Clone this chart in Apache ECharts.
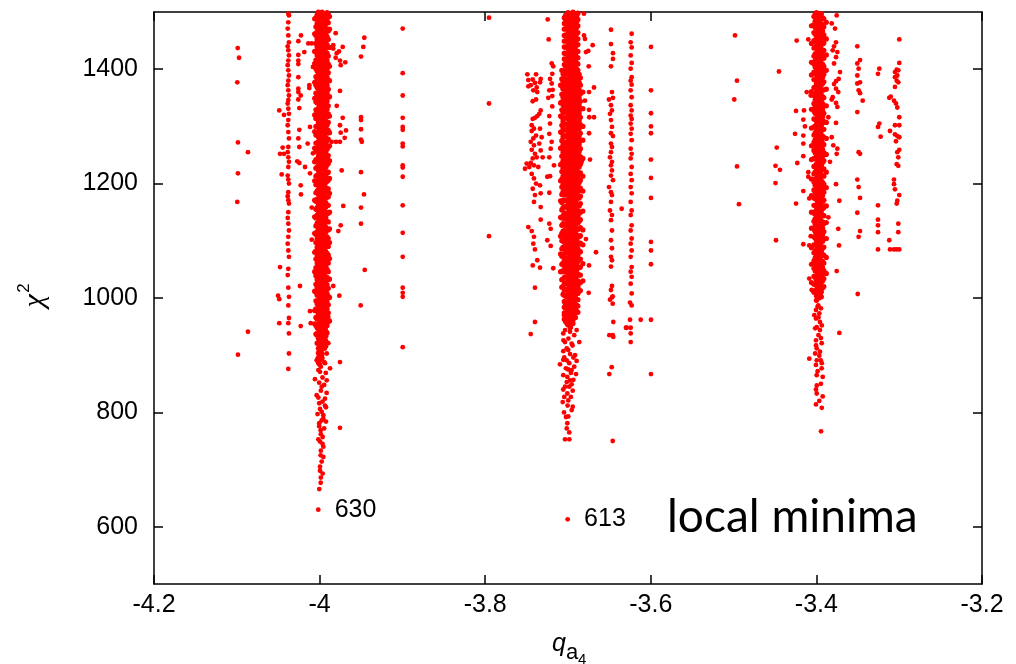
<!DOCTYPE html>
<html><head><meta charset="utf-8">
<script src="https://cdn.jsdelivr.net/npm/echarts@6/dist/echarts.min.js"></script>
<style>html,body{margin:0;padding:0;background:#fff}#c{width:1016px;height:664px}</style>
</head><body><div id="c"></div>
<script>
const xTicks = [-4.2, -4, -3.8, -3.6, -3.4, -3.2];
const yTicks = [600, 800, 1000, 1200, 1400];

// dense cores: lane x positions and y values per lane
const coreA_x = [-4.000, -3.997, -3.994, -4.003, -3.991, -4.006, -3.988, -3.9985, -3.9955, -4.0015, -3.9925, -4.0045, -3.9895];
const coreA_y = [
 [1498,1491,1483,1476,1467,1460,1452,1445,1436,1429,1421,1413,1406,1397,1390,1382,1374,1367,1358,1351,1343,1335,1328,1319,1312,1304,1296,1289,1280,1273,1265,1257,1250,1241,1234,1226,1218,1211,1202,1195,1187,1179,1172,1163,1156,1148,1140,1133,1124,1117,1109,1101,1094,1085,1078,1070,1062,1055,1046,1039,1031,1023,1016,1007,1000,992,984,977,968,961,953,945,938,929,922,914,906,899,891,884],
 [1500,1494,1487,1479,1471,1463,1456,1448,1440,1432,1425,1417,1409,1401,1394,1386,1378,1370,1362,1355,1347,1339,1331,1324,1316,1308,1300,1292,1285,1277,1269,1261,1253,1246,1238,1230,1222,1214,1207,1199,1191,1183,1176,1168,1160,1152,1144,1137,1129,1121,1113,1105,1098,1090,1082,1074,1066,1059,1051,1043,1035,1027,1020,1012,1004,996,988,981,973,965,957,950,942,934,926,918,910,902,895],
 [1497,1489,1482,1474,1465,1458,1450,1443,1434,1427,1419,1411,1404,1395,1388,1380,1372,1365,1356,1349,1341,1333,1326,1317,1310,1302,1294,1287,1278,1271,1263,1255,1248,1239,1232,1224,1216,1209,1200,1193,1185,1177,1170,1161,1154,1146,1138,1131,1122,1115,1107,1099,1092,1083,1076,1068,1060,1053,1044,1037,1029,1021,1014,1005,998,990,982,975,966,959,951,943,936,927,920,912],
 [1495,1480,1466,1452,1439,1424,1410,1397,1383,1368,1355,1341,1326,1313,1299,1284,1271,1257,1242,1229,1215,1200,1187,1173,1158,1145,1131,1116,1103,1089,1074,1061,1047,1032,1019,1005,990,977,963,948,935,921],
 [1499,1486,1470,1457,1443,1428,1415,1401,1386,1372,1359,1344,1330,1317,1302,1288,1275,1260,1246,1233,1218,1204,1191,1176,1162,1149,1134,1120,1107,1092,1078,1065,1050,1036,1023,1008,994,981,966,952,939],
 [1488,1462,1431,1410,1377,1349,1320,1291,1262,1238,1205,1171,1142,1113,1080,1046,1012,978,955],
 [1492,1470,1438,1405,1380,1352,1318,1289,1266,1240,1209,1183,1150,1121,1097,1069,1033,1001,960],
 [1495,1486,1478,1470,1461,1453,1441,1432,1424,1415,1408,1399,1391,1383,1374,1366,1357,1349,1341,1332,1324,1315,1307,1298,1290,1282,1274,1265,1257,1248,1240,1231,1223,1215,1206,1198,1189,1181,1173,1164,1156,1147,1139,1131,1122,1114,1105,1097,1089,1080,1072,1063,1055,1047,1038,1030,1021,1013,1005,996,988,979,971,963,954,946,937,929,921,912,904,895],
 [1490,1481,1473,1464,1456,1447,1439,1430,1422,1413,1405,1396,1388,1379,1371,1362,1354,1345,1337,1328,1320,1311,1303,1294,1286,1277,1269,1260,1252,1243,1235,1226,1218,1209,1201,1192,1184,1175,1167,1158,1150,1141,1133,1124,1116,1107,1099,1090,1082,1073,1065,1056,1048,1039,1031,1022,1014,1005,997,988,980,971,963,954,946,937,929,920,912],
 [1500,1492,1484,1475,1467,1458,1450,1442,1433,1425,1416,1408,1400,1391,1383,1374,1366,1358,1349,1341,1332,1324,1316,1307,1299,1290,1282,1274,1265,1257,1248,1240,1232,1223,1215,1206,1198,1190,1181,1173,1164,1156,1148,1139,1131,1122,1114,1106,1097,1089,1080,1072,1064,1055,1047,1038,1030,1022,1013,1005,996,988,980,971,963,954,946,938,929,921,912,904,896,887],
 [1497,1488,1479,1471,1462,1453,1445,1436,1427,1419,1410,1401,1393,1384,1375,1367,1358,1349,1341,1332,1323,1315,1306,1297,1289,1280,1271,1263,1254,1245,1237,1228,1219,1211,1202,1193,1185,1176,1167,1159,1150,1141,1133,1124,1115,1107,1098,1089,1081,1072,1063,1055,1046,1037,1029,1020,1011,1003,994,985,977,968,959,951,942,933,925,916],
 [1490,1474,1459,1445,1430,1416,1401,1387,1372,1358,1343,1329,1314,1300,1285,1271,1256,1242,1227,1213,1198,1184,1169,1155,1140,1126,1111,1097,1082,1068,1053,1039,1024,1010,995,981,966,952,937],
 [1496,1481,1467,1452,1438,1423,1409,1394,1380,1365,1351,1336,1322,1307,1293,1278,1264,1249,1235,1220,1206,1191,1177,1162,1148,1133,1119,1104,1090,1075,1061,1046,1032,1017,1003,988,974,959]
];
const coreB_x = [-3.700, -3.697, -3.694, -3.691, -3.703, -3.688, -3.706, -3.685, -3.709, -3.682, -3.6985, -3.6955, -3.6925, -3.7045, -3.6895, -3.7075, -3.6865];
const coreB_y = [
 [1499,1492,1484,1477,1468,1461,1453,1445,1438,1430,1421,1414,1406,1398,1391,1382,1375,1367,1359,1352,1343,1336,1328,1320,1313,1304,1297,1289,1281,1274,1265,1258,1250,1242,1235,1226,1219,1211,1203,1196,1187,1180,1172,1164,1157,1148,1141,1133,1125,1118,1109,1102,1094,1086,1079,1070,1063,1055,1047,1040,1031,1024,1016,1008,1001,992,985,977,969,962,953],
 [1496,1488,1481,1472,1465,1457,1449,1442,1434,1425,1418,1410,1402,1395,1386,1379,1371,1363,1356,1347,1340,1332,1324,1317,1308,1301,1293,1285,1278,1269,1262,1254,1246,1239,1230,1223,1215,1207,1200,1191,1184,1176,1168,1161,1152,1145,1137,1129,1122,1113,1106,1098,1090,1083,1074,1067,1059,1051,1044,1035,1028,1020,1012,1005,996,989,981,973,966,957,949],
 [1500,1493,1485,1476,1469,1461,1453,1446,1437,1430,1422,1414,1407,1398,1391,1383,1375,1368,1359,1352,1344,1336,1329,1320,1313,1305,1297,1290,1281,1274,1266,1258,1251,1242,1235,1227,1219,1212,1203,1196,1188,1180,1173,1164,1157,1149,1141,1134,1125,1118,1110,1102,1095,1086,1079,1071,1063,1056,1047,1040,1032,1024,1017,1008,1001,993,985,978,969,961],
 [1497,1489,1480,1473,1465,1457,1450,1441,1434,1426,1418,1411,1402,1395,1387,1379,1372,1363,1356,1348,1340,1333,1324,1317,1309,1301,1294,1285,1278,1270,1262,1255,1246,1239,1231,1223,1216,1207,1200,1192,1184,1177,1168,1161,1153,1145,1138,1129,1122,1114,1106,1099,1090,1083,1075,1067,1060,1051,1044,1036,1028,1021,1012,1005,997,989,982,974,966],
 [1494,1483,1471,1460,1450,1438,1427,1416,1405,1393,1382,1372,1360,1349,1338,1327,1315,1304,1294,1282,1271,1260,1249,1237,1226,1216,1204,1193,1182,1171,1159,1148,1138,1126,1115,1104,1093,1081,1070,1060,1048,1037,1026,1015,1003,992,982,970,959],
 [1498,1487,1476,1464,1453,1443,1431,1420,1409,1398,1386,1376,1365,1354,1342,1331,1320,1309,1298,1287,1276,1264,1253,1242,1231,1220,1209,1198,1186,1175,1164,1153,1142,1131,1120,1108,1097,1086,1075,1064,1053,1042,1030,1019,1008,997,986,975],
 [1392,1379,1365,1351,1338,1324,1309,1296,1282,1268,1255,1240,1227,1213,1199,1186,1171,1158,1144,1130,1117,1102,1089,1075,1061,1048,1033,1020,1006],
 [1385,1372,1357,1344,1330,1316,1303,1288,1275,1261,1247,1234,1219,1206,1192,1178,1165,1150,1137,1123,1109,1096,1081,1068,1054,1040,1027,1013],
 [1372,1341,1318,1290,1262,1233,1205,1170,1141,1108,1077,1046],
 [1360,1331,1300,1276,1244,1213,1187,1152,1119,1093,1060,1030],
 [1494,1485,1477,1468,1460,1451,1443,1434,1426,1417,1409,1400,1392,1383,1375,1366,1358,1349,1341,1332,1324,1315,1307,1298,1290,1281,1273,1264,1256,1247,1239,1230,1222,1213,1205,1196,1188,1179,1171,1162,1154,1145,1137,1128,1120,1111,1103,1094,1086,1077,1069,1060,1052,1043,1035,1026,1018,1009,1001,992,984,975,967,958],
 [1491,1482,1474,1465,1457,1448,1440,1431,1423,1414,1406,1397,1389,1380,1372,1363,1355,1346,1338,1329,1321,1312,1304,1295,1287,1278,1270,1261,1253,1244,1236,1227,1219,1210,1202,1193,1185,1176,1168,1159,1151,1142,1134,1125,1117,1108,1100,1091,1083,1074,1066,1057,1049,1040,1032,1023,1015,1006,998,989,981,972,964,955],
 [1488,1479,1471,1462,1454,1445,1437,1428,1420,1411,1403,1394,1386,1377,1369,1360,1352,1343,1335,1326,1318,1309,1301,1292,1284,1275,1267,1258,1250,1241,1233,1224,1216,1207,1199,1190,1182,1173,1165,1156,1148,1139,1131,1122,1114,1105,1097,1088,1080,1071,1063,1054,1046,1037,1029,1020,1012,1003,995,986,978,969],
 [1490,1480,1470,1459,1449,1439,1428,1418,1408,1397,1387,1377,1366,1356,1346,1335,1325,1315,1304,1294,1284,1273,1263,1253,1242,1232,1222,1211,1201,1191,1180,1170,1160,1149,1139,1129,1118,1108,1098,1087,1077,1067,1056,1046,1036,1025,1015,1005,994,984,974,963],
 [1493,1483,1473,1462,1452,1442,1431,1421,1411,1400,1390,1380,1369,1359,1349,1338,1328,1318,1307,1297,1287,1276,1266,1256,1245,1235,1225,1214,1204,1194,1183,1173,1163,1152,1142,1132,1121,1111,1101,1090,1080,1070,1059,1049,1039,1028,1018,1008,997,987,977],
 [1398,1383,1370,1356,1343,1329,1316,1302,1289,1275,1262,1248,1235,1221,1208,1194,1181,1167,1154,1140,1127,1113,1100,1086,1073,1059,1046,1032,1019],
 [1391,1377,1364,1350,1337,1323,1310,1296,1283,1269,1256,1242,1229,1215,1202,1188,1175,1161,1148,1134,1121,1107,1094,1080,1067,1053,1040,1026,1012]
];
const coreC_x = [-3.400, -3.397, -3.394, -3.403, -3.391, -3.406, -3.388, -3.3985, -3.3955, -3.4015, -3.3925];
const coreC_y = [
 [1499,1490,1481,1472,1463,1455,1446,1437,1428,1419,1410,1402,1393,1384,1375,1366,1357,1349,1340,1331,1322,1313,1304,1296,1287,1278,1269,1260,1251,1243,1234,1225,1216,1207,1198,1190,1181,1172,1163,1154,1145,1137,1128,1119,1110,1101,1092,1084,1075,1066,1057,1048,1039,1031,1022,1013,1004,996],
 [1495,1486,1477,1468,1459,1450,1442,1433,1424,1415,1406,1397,1389,1380,1371,1362,1353,1344,1336,1327,1318,1309,1300,1291,1283,1274,1265,1256,1247,1238,1230,1221,1212,1203,1194,1185,1177,1168,1159,1150,1141,1132,1124,1115,1106,1097,1088,1079,1071,1062,1053,1044,1035,1026,1018,1009,1000],
 [1497,1488,1479,1470,1461,1452,1444,1435,1426,1417,1408,1399,1391,1382,1373,1364,1355,1346,1338,1329,1320,1311,1302,1293,1285,1276,1267,1258,1249,1240,1232,1223,1214,1205,1196,1187,1179,1170,1161,1152,1143,1134,1126,1117,1108,1099,1090,1081,1073,1064,1055,1046,1037,1028,1020,1011,1002],
 [1492,1478,1464,1450,1437,1423,1409,1395,1382,1368,1354,1340,1327,1313,1299,1285,1272,1258,1244,1230,1217,1203,1189,1175,1162,1148,1134,1120,1107,1093,1079,1065,1052,1038,1024,1010],
 [1488,1474,1460,1446,1433,1419,1405,1391,1378,1364,1350,1336,1323,1309,1295,1281,1268,1254,1240,1226,1213,1199,1185,1171,1158,1144,1130,1116,1103,1089,1075,1061,1048,1034,1020],
 [1476,1445,1412,1390,1361,1330,1297,1266,1242,1208,1179,1150,1122,1088,1059,1027],
 [1482,1453,1425,1398,1365,1336,1307,1279,1251,1220,1193,1161,1132,1104,1071,1043],
 [1493,1484,1475,1466,1457,1448,1439,1431,1422,1413,1404,1395,1386,1378,1369,1360,1351,1342,1333,1325,1316,1307,1298,1289,1280,1272,1263,1254,1245,1236,1227,1219,1210,1201,1192,1183,1174,1166,1157,1148,1139,1130,1121,1113,1104,1095,1086,1077,1068,1060,1051,1042,1033,1024,1015,1007],
 [1491,1482,1473,1464,1455,1447,1438,1429,1420,1411,1402,1394,1385,1376,1367,1358,1349,1341,1332,1323,1314,1305,1296,1288,1279,1270,1261,1252,1243,1235,1226,1217,1208,1199,1190,1182,1173,1164,1155,1146,1137,1129,1120,1111,1102,1093,1084,1076,1067,1058,1049,1040,1031,1023,1014,1005],
 [1496,1484,1473,1461,1450,1438,1427,1415,1404,1392,1381,1369,1358,1346,1335,1323,1312,1300,1289,1277,1266,1254,1243,1231,1220,1208,1197,1185,1174,1162,1151,1139,1128,1116,1105,1093,1082,1070,1059,1047,1036,1024,1013],
 [1490,1478,1467,1455,1444,1432,1421,1409,1398,1386,1375,1363,1352,1340,1329,1317,1306,1294,1283,1271,1260,1248,1237,1225,1214,1202,1191,1179,1168,1156,1145,1133,1122,1110,1099,1087,1076,1064,1053,1041,1030,1018]
];

// tails of the dense columns
const tailA = [[-4.0016,1008],[-3.9935,1005],[-3.9995,993],[-3.9914,990],[-4.0035,979],[-3.9955,973],[-3.9895,967],[-4.0004,955],[-3.9923,949],[-4.0035,938],[-3.9947,932],[-3.9895,921],[-3.9995,915],[-3.9914,903],[-4.0035,891],[-3.9935,886],[-3.9874,877],[-3.9995,871],[-4.0056,858],[-3.9914,856],[-3.9975,845],[-4.0035,830],[-3.9935,824],[-4.0004,816],[-3.9923,809],[-3.9975,801],[-3.9955,789],[-4.0004,781],[-3.9923,784],[-3.9987,769],[-3.9963,757],[-3.9995,749],[-3.9955,740],[-3.9987,725],[-3.9955,722],[-3.9995,705],[-3.9963,693],[-3.9987,677],[-4.0004,666],
 [-3.9975,897],[-4.0025,893],[-3.9945,888],[-3.9985,880],[-4.0015,874],[-3.9925,869],[-3.9965,861],[-4.0005,852],[-3.9945,848],[-3.9985,838],[-3.9915,834],[-4.0015,826],[-3.9965,819],[-3.9935,812],[-3.9995,806],[-4.0025,797],[-3.9955,795],[-3.9975,786],[-4.0005,776],[-3.9945,772],[-3.9985,762],[-4.0015,753],[-3.9965,745],[-3.9985,733],[-3.9975,714],[-3.9995,698],[-3.9985,686]];
const tailB = [[-3.7057,1008],[-3.6997,1005],[-3.6915,1002],[-3.7036,990],[-3.6956,987],[-3.6896,987],[-3.7048,970],[-3.6984,973],[-3.6915,973],[-3.7016,955],[-3.6936,955],[-3.7057,938],[-3.6976,941],[-3.6896,944],[-3.7036,923],[-3.6956,920],[-3.6997,909],[-3.7057,907],[-3.6915,900],[-3.7016,891],[-3.6896,890],[-3.7057,892],[-3.7097,884],[-3.6997,875],[-3.6956,874],[-3.7008,862],[-3.7057,865],[-3.6903,867],[-3.6976,856],[-3.7036,845],[-3.6956,849],[-3.6943,838],[-3.7057,840],[-3.7008,833],[-3.7064,818],[-3.6997,821],[-3.6943,810],[-3.7048,800],[-3.6997,793],[-3.7024,792],[-3.7008,781],[-3.7036,753],[-3.6984,753],
 [-3.6975,947],[-3.7035,944],[-3.6925,935],[-3.6995,929],[-3.7055,926],[-3.6945,917],[-3.7015,912],[-3.6975,902],[-3.6935,896],[-3.7045,896],[-3.6985,886],[-3.6925,880],[-3.7025,877],[-3.6965,869],[-3.7015,853],[-3.6935,857],[-3.6985,845],[-3.7045,827],[-3.6965,827],[-3.7005,812],[-3.6955,804],[-3.7015,772],[-3.6985,765]];
const tailC = [[-3.4017,1011],[-3.3957,1008],[-3.3996,996],[-3.3977,987],[-3.4005,979],[-3.3965,973],[-3.4005,964],[-3.3957,958],[-3.3996,949],[-3.3957,944],[-3.4005,926],[-3.3936,921],[-3.3996,912],[-3.3957,906],[-3.3996,891],[-3.3948,891],[-3.4005,883],[-3.3936,877],[-3.3996,865],[-3.3924,862],[-3.4005,840],[-3.3996,833],[-3.3924,828],[-3.4005,814],[-3.3944,767],
 [-3.3985,985],[-3.3945,982],[-3.4025,970],[-3.3975,966],[-3.3935,952],[-3.4015,947],[-3.3975,935],[-3.3945,930],[-3.4005,917],[-3.3965,899],[-3.4015,903],[-3.3935,886],[-3.3985,872],[-3.3945,850],[-3.3995,847],[-3.3965,820],[-3.3935,808]];

// scattered points
const sideA = [[-4.0989,1437],[-4.0973,1420],[-4.0994,1377],[-4.0986,1272],[-4.0865,1255],[-4.0986,1218],[-4.0994,1168],[-4.0986,901],[-4.0865,941],
 [-4.0378,1497],[-4.0370,1494],[-4.0378,1482],[-4.0385,1471],[-4.0378,1459],[-4.0370,1447],[-4.0385,1440],[-4.0378,1433],[-4.0370,1424],[-4.0378,1415],[-4.0385,1407],[-4.0378,1398],[-4.0370,1389],[-4.0378,1380],[-4.0385,1372],[-4.0378,1363],[-4.0370,1354],[-4.0378,1346],[-4.0385,1340],[-4.0378,1331],[-4.0370,1322],[-4.0378,1311],[-4.0385,1302],[-4.0378,1290],[-4.0370,1279],[-4.0378,1264],[-4.0385,1255],[-4.0378,1246],[-4.0370,1238],[-4.0378,1229],[-4.0385,1214],[-4.0378,1207],[-4.0370,1200],[-4.0378,1185],[-4.0385,1178],[-4.0378,1171],[-4.0370,1165],[-4.0378,1150],[-4.0385,1140],[-4.0378,1130],[-4.0370,1118],[-4.0378,1107],[-4.0385,1095],[-4.0378,1083],[-4.0370,1072],[-4.0378,1051],[-4.0385,1040],[-4.0378,1018],[-4.0370,1002],[-4.0378,987],[-4.0370,965],[-4.0378,956],[-4.0370,938],[-4.0370,903],[-4.0378,876],
 [-4.0487,1328],[-4.0430,1320],[-4.0446,1263],[-4.0478,1252],[-4.0430,1252],[-4.0458,1216],[-4.0478,1054],[-4.0502,1004],[-4.0487,998],[-4.0487,956],[-4.0228,951],[-4.0116,977],[-4.0107,956],
 [-4.0225,1459],[-4.0257,1449],[-4.0257,1425],[-4.0185,1430],[-4.0257,1415],[-4.0257,1409],[-4.0257,1386],[-4.0257,1366],[-4.0257,1360],[-4.0228,1354],[-4.0257,1347],[-4.0245,1332],[-4.0245,1294],[-4.0257,1279],[-4.0245,1264],[-4.0270,1239],[-4.0245,1236],[-4.0228,1197],[-4.0225,1181],[-4.0237,1021],
 [-4.0176,1229],[-4.0124,1372],[-4.0124,1367],[-4.0116,1218],[-4.0144,1270],[-4.0095,1158],[-4.0095,1102],[-4.0136,1445],[-4.0095,1445],[-4.0080,1404],[-4.0116,1299],[-4.0080,1253],
 [-3.9806,1463],[-3.9835,1442],[-3.9835,1436],[-3.9721,1439],[-3.9793,1428],[-3.9766,1431],[-3.9806,1420],[-3.9754,1415],[-3.9690,1412],[-3.9745,1407],[-3.9754,1362],[-3.9793,1336],[-3.9721,1315],[-3.9754,1302],[-3.9681,1293],[-3.9745,1289],[-3.9697,1280],[-3.9754,1273],[-3.9802,1273],[-3.9854,1273],[-3.9733,1223],[-3.9714,1161],[-3.9745,1127],[-3.9774,1117],[-3.9835,1021],[-3.9762,1004],[-3.9754,888],[-3.9754,773],
 [-3.9460,1455],[-3.9472,1439],[-3.9500,1422],[-3.9500,1316],[-3.9500,1311],[-3.9500,1295],[-3.9500,1277],[-3.9490,1273],[-3.9500,1220],[-3.9464,1181],[-3.9500,1158],[-3.9500,1130],[-3.9455,1049],[-3.9504,987],
 [-3.8996,1471],[-3.8996,1393],[-3.8996,1354],[-3.8996,1315],[-3.8996,1299],[-3.8996,1294],[-3.8996,1270],[-3.8996,1265],[-3.8996,1232],[-3.8996,1228],[-3.8996,1212],[-3.8996,1162],[-3.8996,1114],[-3.8996,1072],[-3.8996,1018],[-3.8996,1009],[-3.8996,1002],[-3.8996,914],
 [-3.7954,1490],[-3.7954,1340],[-3.7954,1108]];
const sideB = [[-3.7245,1487],[-3.7233,1452],[-3.7197,1410],[-3.7178,1405],[-3.7190,1392],[-3.7491,1391],[-3.7386,1391],
 [-3.7479,1381],[-3.7426,1382],[-3.7450,1372],[-3.7399,1376],[-3.7330,1383],[-3.7338,1377],[-3.7479,1370],[-3.7378,1368],[-3.7419,1363],[-3.7371,1360],
 [-3.7217,1383],[-3.7197,1375],[-3.7226,1363],[-3.7185,1364],[-3.7238,1350],[-3.7190,1353],[-3.7426,1344],[-3.7386,1347],[-3.7330,1328],[-3.7347,1322],[-3.7190,1335],
 [-3.7399,1315],[-3.7371,1318],[-3.7426,1313],[-3.7226,1318],[-3.7217,1305],
 [-3.7438,1302],[-3.7411,1296],[-3.7438,1292],[-3.7386,1284],[-3.7419,1279],[-3.7450,1273],[-3.7411,1267],[-3.7438,1259],[-3.7399,1252],[-3.7426,1244],[-3.7450,1236],[-3.7499,1235],[-3.7519,1226],[-3.7467,1229],[-3.7411,1232],[-3.7378,1246],
 [-3.7338,1296],[-3.7318,1281],[-3.7347,1270],[-3.7330,1258],[-3.7306,1246],[-3.7359,1229],
 [-3.7226,1287],[-3.7197,1273],[-3.7209,1261],[-3.7226,1246],[-3.7169,1232],
 [-3.7438,1217],[-3.7411,1209],[-3.7386,1200],[-3.7426,1191],[-3.7399,1180],[-3.7411,1168],[-3.7338,1197],[-3.7330,1183],[-3.7250,1212],[-3.7217,1213],[-3.7226,1184],[-3.7330,1159],[-3.7330,1137],
 [-3.7479,1124],[-3.7438,1117],[-3.7411,1107],[-3.7419,1095],[-3.7399,1085],[-3.7371,1066],[-3.7426,1057],[-3.7338,1053],[-3.7399,1018],
 [-3.7226,1130],[-3.7209,1121],[-3.7250,1101],[-3.7209,1091],[-3.7178,1052],[-3.7399,958],[-3.7450,937],[-3.6864,923],
 [-3.6807,1497],[-3.6807,1459],[-3.6795,1453],[-3.6702,1442],[-3.6783,1430],[-3.6755,1432],[-3.6750,1405],[-3.6686,1368],[-3.6746,1360],[-3.6795,1345],[-3.6746,1329],[-3.6743,1316],[-3.6686,1316],[-3.6746,1288],[-3.6734,1242],[-3.6834,1238],[-3.6783,1103],[-3.6662,1080],[-3.6746,1057],[-3.6750,1009]];
const sideMid = [[-3.6481,1469],[-3.6481,1444],[-3.6457,1428],[-3.6457,1418],[-3.6481,1405],[-3.6469,1360],[-3.6457,1350],[-3.6505,1347],[-3.6481,1337],[-3.6469,1328],[-3.6493,1322],[-3.6481,1311],[-3.6469,1299],[-3.6481,1288],[-3.6457,1283],[-3.6481,1270],[-3.6469,1264],[-3.6481,1255],[-3.6493,1246],[-3.6469,1238],[-3.6481,1232],[-3.6469,1223],[-3.6481,1214],[-3.6457,1206],[-3.6505,1194],[-3.6481,1185],[-3.6469,1180],[-3.6481,1168],[-3.6493,1153],[-3.6469,1145],[-3.6481,1136],[-3.6469,1118],[-3.6481,1101],[-3.6469,1087],[-3.6481,1072],[-3.6469,1066],[-3.6481,1055],[-3.6469,1021],[-3.6481,1014],[-3.6469,1001],
 [-3.6493,997],[-3.6460,1003],[-3.6460,990],[-3.6453,958],[-3.6501,935],[-3.6460,935],[-3.6453,932],[-3.6472,879],[-3.6501,867],[-3.6460,750],[-3.6352,1156],[-3.6300,948],
 [-3.6231,1462],[-3.6243,1447],[-3.6231,1438],[-3.6243,1424],[-3.6231,1411],[-3.6243,1401],[-3.6231,1386],[-3.6243,1380],[-3.6231,1373],[-3.6243,1363],[-3.6231,1351],[-3.6243,1337],[-3.6231,1328],[-3.6243,1319],[-3.6231,1313],[-3.6243,1305],[-3.6231,1296],[-3.6243,1287],[-3.6231,1276],[-3.6243,1261],[-3.6231,1252],[-3.6243,1244],[-3.6231,1229],[-3.6243,1217],[-3.6231,1206],[-3.6243,1194],[-3.6231,1183],[-3.6243,1168],[-3.6231,1153],[-3.6243,1145],[-3.6231,1127],[-3.6243,1118],[-3.6231,1104],[-3.6243,1095],[-3.6231,1083],[-3.6243,1072],[-3.6231,1054],[-3.6243,1046],[-3.6231,1037],[-3.6243,1025],[-3.6231,1008],
 [-3.6251,992],[-3.6231,987],[-3.6251,962],[-3.6243,948],[-3.6243,938],[-3.6243,923],[-3.6291,948],[-3.6122,962],
 [-3.5998,1439],[-3.5998,1363],[-3.5998,1323],[-3.5998,1300],[-3.5998,1288],[-3.5998,1242],[-3.5998,1210],[-3.5998,1175],[-3.5998,1098],[-3.5998,1083],[-3.5998,1059],[-3.5998,962],[-3.5998,867],
 [-3.4983,1459],[-3.4959,1380],[-3.4992,1347],[-3.4959,1230],[-3.4935,1164],
 [-3.4452,1396],[-3.4479,1263],[-3.4494,1231],[-3.4440,1224],[-3.4494,1201],[-3.4488,1101]];
const sideC = [[-3.4238,1450],[-3.4246,1327],[-3.4150,1328],[-3.4258,1287],[-3.4158,1312],[-3.4138,1300],[-3.4158,1284],
 [-3.4231,1236],[-3.4158,1248],[-3.4158,1270],[-3.4098,1220],[-3.4098,1212],[-3.4158,1187],[-3.4086,1174],[-3.4246,1165],[-3.4158,1094],[-3.4086,1092],[-3.4069,1108],
 [-3.4086,1034],[-3.4057,1014],[-3.4117,1360],[-3.4069,1354],[-3.4098,1452],[-3.4086,894],[-3.3723,939],
 [-3.3755,1494],[-3.3815,1480],[-3.3775,1471],[-3.3715,1395],[-3.3763,1447],[-3.3787,1440],[-3.3747,1430],[-3.3803,1433],[-3.3763,1421],[-3.3787,1410],[-3.3763,1379],[-3.3731,1383],[-3.3787,1374],[-3.3763,1366],[-3.3736,1360],[-3.3803,1351],[-3.3763,1341],[-3.3747,1334],[-3.3815,1347],[-3.3856,1316],[-3.3763,1306],[-3.3815,1281],[-3.3796,1267],[-3.3747,1261],[-3.3755,1252],[-3.3836,1238],[-3.3763,1199],[-3.3723,1170],[-3.3856,1141],[-3.3736,1121],[-3.3727,1092],[-3.3755,1047],
 [-3.3506,1440],[-3.3473,1416],[-3.3506,1410],[-3.3490,1401],[-3.3506,1389],[-3.3473,1377],[-3.3506,1375],[-3.3490,1363],[-3.3473,1358],[-3.3506,1325],[-3.3490,1255],[-3.3473,1252],[-3.3506,1207],[-3.3490,1194],[-3.3473,1175],[-3.3506,1149],[-3.3473,1117],[-3.3490,1107],[-3.3501,1007],[-3.3441,1345],
 [-3.3240,1401],[-3.3256,1392],[-3.3240,1305],[-3.3256,1299],[-3.3224,1282],[-3.3256,1162],[-3.3256,1137],[-3.3256,1127],[-3.3256,1115],[-3.3256,1085],
 [-3.2999,1452],[-3.2999,1411],[-3.3030,1399],[-3.3051,1395],[-3.3011,1398],[-3.3051,1386],[-3.3023,1389],[-3.3030,1380],[-3.3011,1377],[-3.3051,1369],
 [-3.3120,1350],[-3.3102,1352],[-3.3063,1345],[-3.3039,1340],[-3.3023,1333],[-3.2999,1316],[-3.3051,1302],[-3.2999,1302],[-3.3111,1292],[-3.3051,1286],[-3.3023,1283],[-3.3039,1274],[-3.2999,1281],[-3.3023,1255],[-3.2999,1259],[-3.3011,1246],[-3.3030,1234],[-3.3011,1231],[-3.3063,1207],[-3.3063,1199],[-3.3051,1190],[-3.2999,1180],[-3.3023,1170],[-3.3030,1165],[-3.3011,1130],[-3.3011,1115],[-3.3120,1101],[-3.3111,1085],[-3.3063,1085],[-3.3030,1085],[-3.2999,1085]];
const minima = [[-4.0016, 630], [-3.7004, 613]];

const corePts = [];
function addLanes(xs, ys){ xs.forEach((x,i)=>ys[i].forEach(y=>corePts.push([x,y]))); }
addLanes(coreA_x, coreA_y); addLanes(coreB_x, coreB_y); addLanes(coreC_x, coreC_y);
const pts = [];
[tailA, tailB, tailC, sideA, sideB, sideMid, sideC].forEach(a=>a.forEach(p=>pts.push(p)));

const F = 'Liberation Sans, Arial, sans-serif';
const axisStyle = {lineStyle:{color:'#000', width:1.5}};
const tickStyle = {color:'#000', width:1.5};
const chart = echarts.init(document.getElementById('c'), null, {renderer:'canvas'});
chart.setOption({
  animation:false,
  backgroundColor:'#fff',
  grid:{left:154, right:34, top:12, bottom:80},
  xAxis:[
    {type:'value', min:-4.2, max:-3.2, position:'bottom',
     axisLine:{show:true, onZero:false, ...axisStyle},
     axisTick:{show:true, inside:true, length:9, customValues:xTicks, lineStyle:tickStyle},
     axisLabel:{customValues:xTicks, formatter:v=>String(v), color:'#000', fontFamily:F, fontSize:25, margin:9},
     splitLine:{show:false}},
    {type:'value', min:-4.2, max:-3.2, position:'top',
     axisLine:{show:true, onZero:false, ...axisStyle},
     axisTick:{show:true, inside:true, length:9, customValues:xTicks, lineStyle:tickStyle},
     axisLabel:{show:false}, splitLine:{show:false}}
  ],
  yAxis:[
    {type:'value', min:500, max:1500, position:'left',
     axisLine:{show:true, onZero:false, ...axisStyle},
     axisTick:{show:true, inside:true, length:9, customValues:yTicks, lineStyle:tickStyle},
     axisLabel:{customValues:yTicks, formatter:v=>String(v), color:'#000', fontFamily:F, fontSize:25, margin:16},
     splitLine:{show:false}},
    {type:'value', min:500, max:1500, position:'right',
     axisLine:{show:true, onZero:false, ...axisStyle},
     axisTick:{show:true, inside:true, length:9, customValues:yTicks, lineStyle:tickStyle},
     axisLabel:{show:false}, splitLine:{show:false}}
  ],
  series:[
    {type:'scatter', xAxisIndex:0, yAxisIndex:0, data:corePts, symbol:'circle', symbolSize:5.2,
     itemStyle:{color:'#ff0000', opacity:1}, silent:true},
    {type:'scatter', xAxisIndex:0, yAxisIndex:0, data:pts, symbol:'circle', symbolSize:4.8,
     itemStyle:{color:'#ff0000', opacity:1}, silent:true},
    {type:'scatter', xAxisIndex:0, yAxisIndex:0, data:minima, symbol:'circle', symbolSize:4.8,
     itemStyle:{color:'#ff0000', opacity:1},
     label:{show:true, position:'right', distance:14, formatter:p=>String(p.value[1]), color:'#000', fontFamily:F, fontSize:25}}
  ],
  graphic:[
    {type:'text', left:667, top:494, style:{text:'local minima', font:'400 46px Lato, sans-serif', fill:'#000'}},
    {type:'text', x:35, y:301, rotation:Math.PI/2, style:{text:'χ', font:'italic 30px "Liberation Serif", serif', fill:'#000', align:'center', verticalAlign:'middle'}},
    {type:'text', x:24, y:288, rotation:Math.PI/2, style:{text:'2', font:'17px "Liberation Sans", sans-serif', fill:'#000', align:'center', verticalAlign:'middle'}},
    {type:'text', x:552, y:632, style:{text:'q', font:'italic 25px "Liberation Sans", sans-serif', fill:'#000'}},
    {type:'text', x:566, y:642, style:{text:'a', font:'22px "Liberation Sans", sans-serif', fill:'#000'}},
    {type:'text', x:578, y:652, style:{text:'4', font:'15px "Liberation Sans", sans-serif', fill:'#000'}}
  ]
});
</script>
</body></html>
